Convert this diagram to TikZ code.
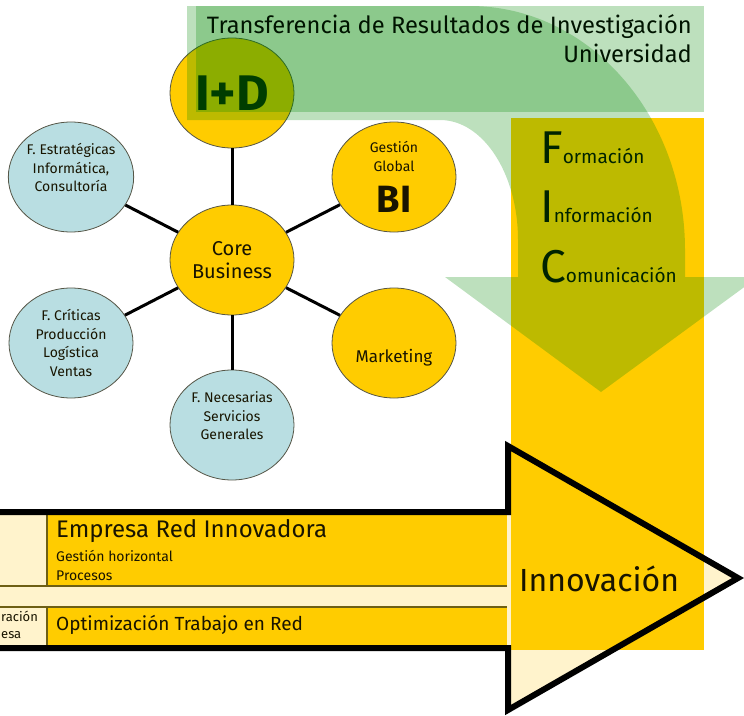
\documentclass[tikz,border=0pt]{standalone}
\usepackage{fontspec}
\setmainfont{Fira Sans}
\usetikzlibrary{shapes.geometric}

\definecolor{gold}{RGB}{255,204,0}
\definecolor{cream}{RGB}{255,243,204}
\definecolor{sky}{RGB}{185,222,226}
\definecolor{leaf}{RGB}{0,136,0}
\definecolor{ink}{RGB}{24,20,0}
\definecolor{rim}{RGB}{85,85,70}
\definecolor{rulecol}{RGB}{110,95,20}

\begin{document}
\begin{tikzpicture}[x=1pt, y=-1pt,
	hub/.style={shape=ellipse, draw=rim, line width=0.8pt, minimum width=124pt, minimum height=110pt, inner sep=0pt, align=center, text=ink},
	goldball/.style={hub, fill=gold},
	skyball/.style={hub, fill=sky, font=\fontsize{14}{18.5}\selectfont},
	spoke/.style={line width=3pt},
	wash/.style={fill=leaf, fill opacity=0.26},
	rule/.style={draw=rulecol, line width=1.2pt},
	lbl/.style={anchor=base west, inner sep=0pt, text=ink}]

	\useasboundingbox (0, 0) rectangle (744, 715);

	% big arrow and the FIC block
	\fill[cream] (-10, 512) -- (508, 512) -- (508, 446) -- (738, 578) -- (508, 710) -- (508, 648) -- (-10, 648) -- cycle;
	\fill[gold] (511, 118) rectangle (704, 650);
	\fill[gold] (47, 515) rectangle (507, 586);
	\fill[gold] (47, 607) rectangle (507, 645);
	\draw[rule] (0, 586) -- (507, 586) (0, 607) -- (507, 607) (47, 515) -- (47, 586) (47, 607) -- (47, 645);
	\draw[line width=6pt] (-10, 512) -- (508, 512) -- (508, 446) -- (738, 578) -- (508, 710) -- (508, 648) -- (-10, 648);

	\node[lbl, font=\fontsize{24}{24}\selectfont] (empresa) at (56, 537) {Empresa Red Innovadora};
	\node[lbl, font=\fontsize{14}{14}\selectfont] (horiz) at (56, 561) {Gestión horizontal};
	\node[lbl, font=\fontsize{14}{14}\selectfont] (procesos) at (56, 580) {Procesos};
	\node[lbl, font=\fontsize{19}{19}\selectfont] (optim) at (56, 630) {Optimización Trabajo en Red};
	\node[lbl, font=\fontsize{13}{13}\selectfont] (racion) at (1, 621) {ración};
	\node[lbl, font=\fontsize{13}{13}\selectfont] (esa) at (1, 638) {esa};
	\node[lbl, font=\fontsize{32}{32}\selectfont] (innov) at (519, 591) {Innovación};

	\node[lbl, text=black] (form) at (540, 163) {{\fontsize{46}{46}\selectfont F}{\fontsize{19}{19}\selectfont ormación}};
	\node[lbl, text=black] (inf) at (540, 222) {{\fontsize{46}{46}\selectfont I}{\fontsize{19}{19}\selectfont nformación}};
	\node[lbl, text=black] (com) at (540, 282) {{\fontsize{46}{46}\selectfont C}{\fontsize{19}{19}\selectfont omunicación}};

	% core business and its functions
	\node[goldball, font=\fontsize{20}{23}\selectfont] (core) at (232, 260) {Core\\Business};
	\node[goldball, font=\fontsize{50}{50}\selectfont\bfseries, text=black] (id) at (232, 93) {I+D};
	\node[goldball, font=\fontsize{14}{19}\selectfont] (bi) at (394, 177) {Gestión\\Global\\[14pt]{\fontsize{38}{38}\selectfont\bfseries BI}};
	\node[goldball, font=\fontsize{17}{18}\selectfont] (mkt) at (394, 343) {\mbox{}\\[24pt]Marketing};
	\node[skyball] (estr) at (71, 177) {F. Estratégicas\\Informática,\\Consultoría\\\mbox{}};
	\node[skyball] (crit) at (71, 343) {F. Críticas\\Producción\\Logística\\Ventas};
	\node[skyball] (nec) at (232, 425) {F. Necesarias\\Servicios\\Generales\\\mbox{}};

	\path[spoke] (core) edge (id) edge (bi) edge (mkt) edge (nec) edge (crit) edge (estr);

	% transfer arrow from the university
	\fill[wash] (187, 6) -- (470, 6) arc[start angle=90, end angle=0, x radius=215pt, y radius=244pt] -- (685, 277) -- (758, 277) -- (601, 392) -- (445, 277) -- (518, 277) -- (518, 240) arc[start angle=0, end angle=90, x radius=78pt, y radius=120pt] -- (187, 120) -- cycle;
	\fill[wash] (196, 6) rectangle (704, 112);

	\node[anchor=base east, inner sep=0pt, font=\fontsize{23.7}{23.7}\selectfont, text=black!85!leaf] (title) at (692, 33) {Transferencia de Resultados de Investigación};
	\node[anchor=base east, inner sep=0pt, font=\fontsize{23.7}{23.7}\selectfont, text=black!85!leaf] (univ) at (692, 62) {Universidad};
\end{tikzpicture}
\end{document}
